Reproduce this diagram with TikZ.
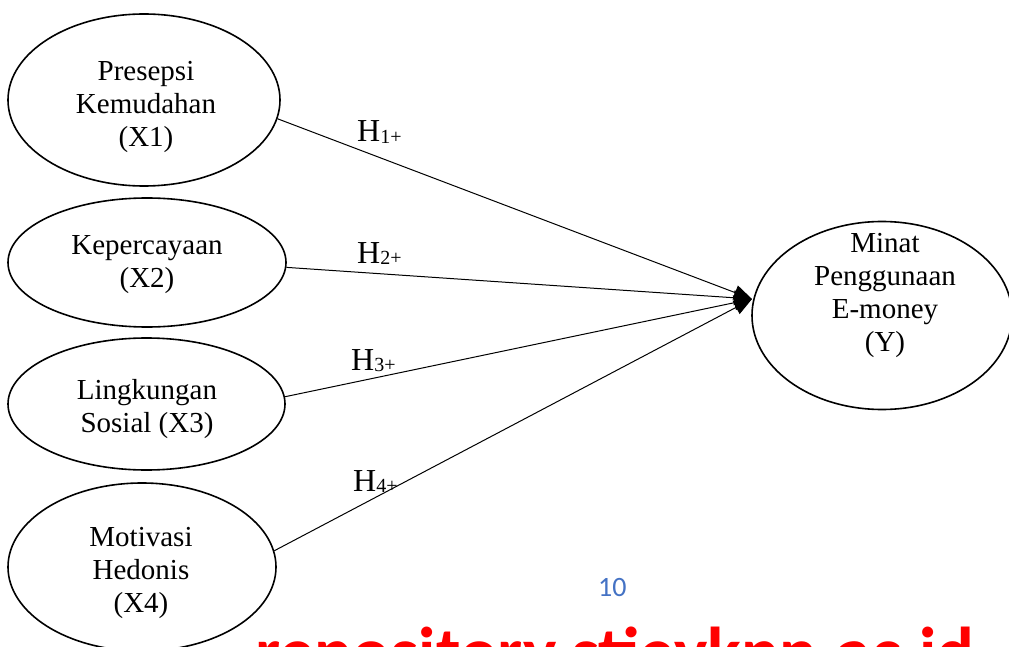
\documentclass[tikz,border=0pt]{standalone}
\usepackage{fontspec}
\setmainfont{Liberation Serif}
\newfontfamily\calibri{Carlito}
\usepackage{tikz}
\usetikzlibrary{arrows.meta}
\usetikzlibrary{shapes.geometric}
\definecolor{pagenum}{HTML}{4472C4}
\tikzset{
	%	var/.style={ellipse,draw,minimum size=1.5em},
	var/.style={ellipse,draw,line width=1.6pt,inner sep=0pt},
	vartext/.style={align=center,inner sep=0pt,font=\fontsize{29}{33}\selectfont},
	hyp/.style={anchor=base west,inner sep=0pt},
	edge/.style={-{Triangle[length=18pt,width=15pt]},line width=1pt}
}
\newcommand{\hyplabel}[1]{{\fontsize{32}{32}\selectfont H}{\fontsize{20}{20}\selectfont\raisebox{-1.5pt}{#1+}}}

\begin{document}
\begin{tikzpicture}[x=1pt,y=-1pt]
	\useasboundingbox (0,0) rectangle (1009,647);
	
	\node[var,minimum width=272,minimum height=172] (x1) at (144,100) {};
	\node[var,minimum width=278,minimum height=129] (x2) at (147,262.5) {};
	\node[var,minimum width=277,minimum height=132] (x3) at (146.5,404) {};
	\node[var,minimum width=268,minimum height=168] (x4) at (142,567) {};
	\node[var,minimum width=260,minimum height=188] (y) at (882,315.5) {};
	
	\node[vartext] (x1t) at (146,106.5) {Presepsi\\Kemudahan\\(X1)};
	\node[vartext] (x2t) at (147,265) {Kepercayaan\\(X2)};
	\node[vartext] (x3t) at (147,409) {Lingkungan\\Sosial (X3)};
	\node[vartext] (x4t) at (141,573) {Motivasi\\Hedonis\\(X4)};
	\node[vartext] (yt) at (885,295) {Minat\\Penggunaan\\E-money\\(Y)};
	
	\coordinate (tip) at (752,299);
	\draw[edge] (x1.-8) -- (tip);
	\draw[edge] (x2.-2) -- (tip);
	\draw[edge] (x3.3) -- (tip);
	\draw[edge] (x4.7) -- (tip);
	
	\node[hyp] (h1) at (357,142) {\hyplabel{1}};
	\node[hyp] (h2) at (357,263) {\hyplabel{2}};
	\node[hyp] (h3) at (351,370) {\hyplabel{3}};
	\node[hyp] (h4) at (353,491) {\hyplabel{4}};
	
	\node[anchor=base west,inner sep=0pt,text=pagenum,font=\calibri\fontsize{28}{28}\selectfont] (pg) at (598,596) {10};
	\node[anchor=base west,inner sep=0pt,text=red,font=\calibri\bfseries\fontsize{70.5}{70.5}\selectfont] (wm) at (255,676) {repository.stieykpn.ac.id};
\end{tikzpicture}
\end{document}
